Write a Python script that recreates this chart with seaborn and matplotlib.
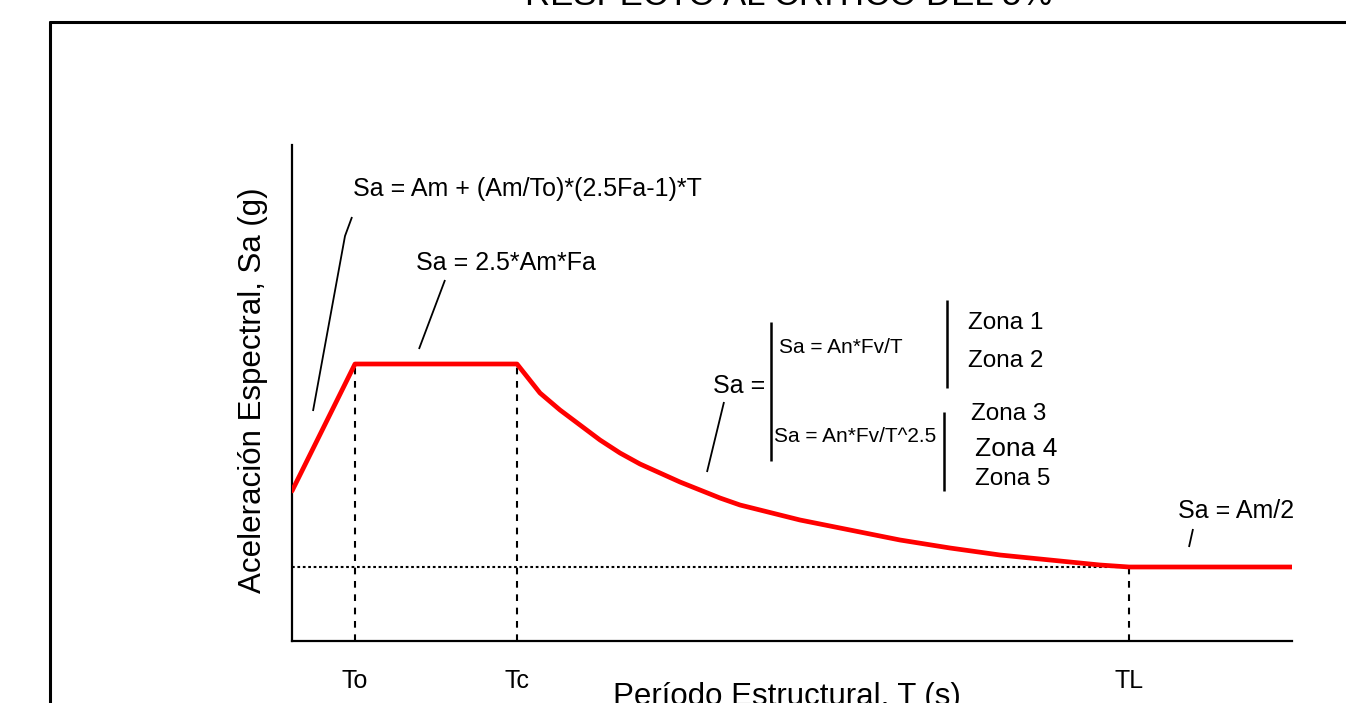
import matplotlib
matplotlib.use("Agg")
import matplotlib.pyplot as plt
import seaborn as sns
import pandas as pd
from matplotlib.lines import Line2D

# -----------------------------
# DATA
# -----------------------------
T_values = [0.0, 0.63, 2.25, 2.48, 2.68, 2.88, 3.08, 3.28, 3.48, 3.68,
            3.88, 4.08, 4.28, 4.48, 4.88, 5.08, 5.58, 6.08, 6.58, 7.08, 7.58,
            8.08, 8.37, 10.0]
Sa_values = [1.50, 2.77, 2.77, 2.48, 2.31, 2.16, 2.01, 1.88, 1.77, 1.68,
             1.59, 1.51, 1.43, 1.36, 1.26, 1.21, 1.11, 1.01, 0.93, 0.86, 0.81,
             0.76, 0.74, 0.74]

period_names = ["To", "Tc", "TL"]
period_values = [0.63, 2.25, 8.37]
period_sa = [2.77, 2.77, 0.74]
sa_long = 0.74

df = pd.DataFrame({"T": T_values, "Sa": Sa_values})

# -----------------------------
# STYLE
# -----------------------------
sns.set_style("white")
plt.rcParams["font.family"] = ["Liberation Sans", "DejaVu Sans"]
plt.rcParams["text.color"] = "black"
plt.rcParams["axes.labelcolor"] = "black"
plt.rcParams["xtick.color"] = "black"

fig = plt.figure(figsize=(13.46, 7.03), dpi=100)
ax = fig.add_axes([292 / 1346, 62 / 703, 1000 / 1346, 496 / 703])
ax.set_xlim(0, 10)
ax.set_ylim(0, 4.96)

# outer frame (cropped)
fig.add_artist(Line2D([50 / 1346, 50 / 1346], [0, 681 / 703], color="black", lw=2.2))
fig.add_artist(Line2D([50 / 1346, 1], [681 / 703, 681 / 703], color="black", lw=2.2))

# cropped title
fig.text(789 / 1346, 698 / 703, "RESPECTO AL CRITICO DEL 5%", ha="center",
         va="baseline", fontsize=25)

# -----------------------------
# REFERENCE LINES
# -----------------------------
ax.plot([0, period_values[2]], [sa_long, sa_long], color="black", lw=1.5,
        linestyle=(0, (1.3, 1.3)), zorder=1)
for tv, sv in zip(period_values, period_sa):
    ax.plot([tv, tv], [0, sv], color="black", lw=1.5,
            linestyle=(0, (3.2, 3.2)), zorder=1)

# -----------------------------
# SPECTRUM
# -----------------------------
sns.lineplot(data=df, x="T", y="Sa", ax=ax, color="red", lw=3.4,
             sort=False, estimator=None, zorder=3)

# -----------------------------
# AXES
# -----------------------------
for side in ["top", "right"]:
    ax.spines[side].set_visible(False)
for side in ["left", "bottom"]:
    ax.spines[side].set_linewidth(1.6)
    ax.spines[side].set_color("black")

ax.set_yticks([])
ax.set_xticks(period_values)
ax.set_xticklabels(period_names, fontsize=18)
ax.tick_params(axis="x", length=0, pad=20)

ax.set_xlabel("Período Estructural, T (s)", fontsize=22.5)
ax.xaxis.set_label_coords(0.495, -0.082)
ax.set_ylabel("Aceleración Espectral, Sa (g)", fontsize=22.5)
ax.yaxis.set_label_coords(-0.024, 0.506)


# -----------------------------
# ANNOTATIONS (pixel -> data helper)
# -----------------------------
def px(x, y):
    return (x - 292) / 100, (641 - y) / 100


def seg(points, lw=1.3):
    xs, ys = zip(*[px(*p) for p in points])
    ax.plot(xs, ys, color="black", lw=lw, solid_capstyle="butt", clip_on=False)


def label(x, y, s, size=18):
    tx, ty = px(x, y)
    ax.text(tx, ty, s, ha="left", va="center", fontsize=size)


label(353, 189, "Sa = Am + (Am/To)*(2.5Fa-1)*T")
seg([(313, 411), (345, 236), (352, 217)])

label(416, 263, "Sa = 2.5*Am*Fa")
seg([(419, 349), (445, 280)])

label(713, 386, "Sa =")
seg([(707, 472), (724, 402)])
seg([(771, 322), (771, 461)], lw=1.8)
label(779, 348, "Sa = An*Fv/T", size=15)
label(774, 437, "Sa = An*Fv/T^2.5", size=15)

seg([(947, 300), (947, 388)], lw=1.8)
seg([(944, 412), (944, 491)], lw=1.8)
label(968, 323, "Zona 1", size=17.5)
label(968, 361, "Zona 2", size=17.5)
label(971, 414, "Zona 3", size=17.5)
label(975, 449, "Zona 4", size=19)
label(975, 479, "Zona 5", size=17.5)

label(1178, 511, "Sa = Am/2")
seg([(1189, 547), (1193, 529)])

plt.savefig("out.png", dpi=100)
plt.close()
